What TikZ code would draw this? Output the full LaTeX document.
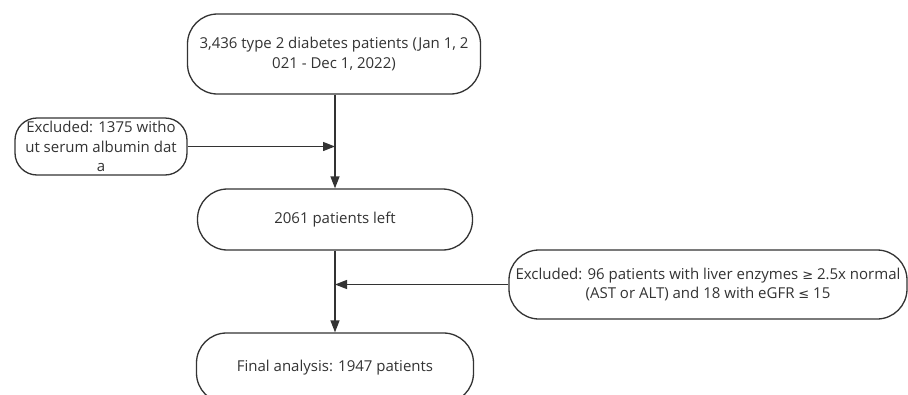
\documentclass[tikz,border=0pt]{standalone}
\usepackage{fontspec}
\setmainfont{Open Sans}
\newfontfamily\symfont{DejaVu Sans}
\usetikzlibrary{arrows.meta}
\definecolor{ink}{HTML}{333333}
\tikzset{
  flowbox/.style={draw=ink, line width=1.3pt, rounded corners=30pt, fill=white,
    text=ink, align=center, inner sep=0pt,
    font=\fontsize{15}{19.5}\selectfont},
  arr/.style={draw=ink, line width=1.3pt, -{Triangle[length=12pt,width=9pt]}}
}
\begin{document}
\begin{tikzpicture}[x=1pt,y=-1pt]
\useasboundingbox (0,0) rectangle (908,394);
\clip (0,0) rectangle (908,394);
\fill[white] (0,0) rectangle (908,394);
\node[flowbox, minimum width=293pt, minimum height=80pt] (top) at (334,54)
  {3,436 type 2 diabetes patients (Jan 1, 2\\021 - Dec 1, 2022)};
\node[flowbox, minimum width=172pt, minimum height=57pt, rounded corners=22pt] (left) at (101,146.5)
  {Excluded: 1375 witho\\ut serum albumin dat\\a};
\node[flowbox, minimum width=275pt, minimum height=61pt] (mid) at (335,219.5)
  {2061 patients left};
\node[flowbox, minimum width=398pt, minimum height=69pt] (right) at (708,284.5)
  {Excluded: 96 patients with liver enzymes {\symfont\fontsize{13}{19.5}\selectfont ≥} 2.5x normal\\(AST or ALT) and 18 with eGFR {\symfont\fontsize{13}{19.5}\selectfont ≤} 15};
\node[flowbox, minimum width=277pt, minimum height=70pt] (bot) at (335,368)
  {Final analysis: 1947 patients};
\draw[arr] (top.south -| mid.north) -- (mid.north);
\draw[arr] (left.east) -- (left.east -| mid.north);
\draw[arr] (mid.south) -- (bot.north);
\draw[arr] (right.west) -- (right.west -| mid.south);
\end{tikzpicture}
\end{document}
